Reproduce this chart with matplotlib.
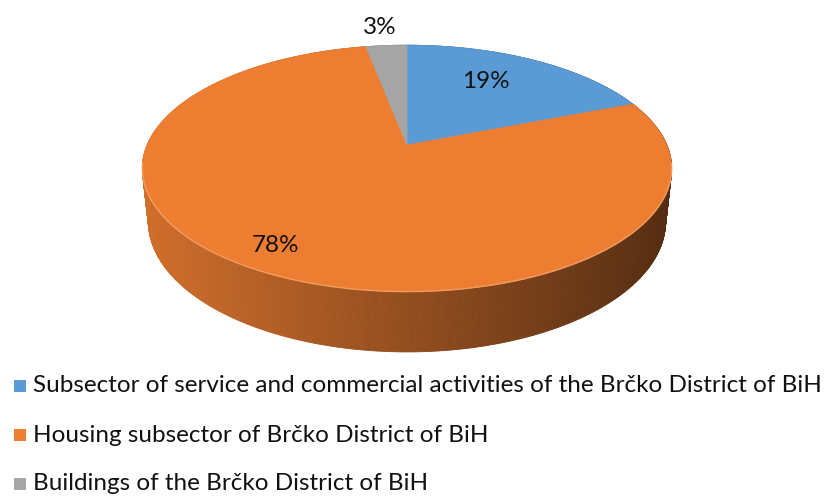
import numpy as np
import matplotlib
matplotlib.use("Agg")
import matplotlib.pyplot as plt
from matplotlib.patches import Polygon, Rectangle

# Shares of final energy consumption by subsector
categories = [
    "Subsector of service and commercial activities of the Brčko District of BiH",
    "Housing subsector of Brčko District of BiH",
    "Buildings of the Brčko District of BiH",
]
values = [19, 78, 3]
labels = ["19%", "78%", "3%"]
colors = ["#5B9BD5", "#ED7D31", "#A5A5A5"]

W, H = 828, 496
fig = plt.figure(figsize=(W / 100, H / 100), dpi=100)
ax = fig.add_axes([0, 0, 1, 1])
ax.set_xlim(0, W)
ax.set_ylim(H, 0)
ax.axis("off")

# Perspective camera for the 3D pie (unit disk, thickness h)
elev = np.deg2rad(27.2)
cs, sn = np.cos(elev), np.sin(elev)
D, f, h = 4.68, 1216.0, 0.2315
cx, cy = 407.0, 145.0


def project(X, Y, Z):
    yc = Z * cs + Y * sn
    zc = D + Y * cs - Z * sn
    return cx + f * X / zc, cy - f * yc / zc, zc


# Slice angles, clockwise from 12 o'clock
fr = np.array(values, dtype=float) / sum(values)
edges = np.concatenate([[0], np.cumsum(fr)]) * 2 * np.pi


def slice_index(theta):
    return min(np.searchsorted(edges, theta % (2 * np.pi), side="right") - 1, len(values) - 1)


# Side wall, drawn back to front with horizontal shading
n = 720
th = np.linspace(0, 2 * np.pi, n + 1)
quads = []
for i in range(n):
    t0, t1 = th[i], th[i + 1]
    x0, y0 = np.sin(t0), np.cos(t0)
    x1, y1 = np.sin(t1), np.cos(t1)
    a = project(x0, y0, 0)
    b = project(x1, y1, 0)
    c2 = project(x1, y1, -h)
    d = project(x0, y0, -h)
    depth = (a[2] + b[2]) / 2
    umid = (a[0] + b[0]) / 2 - cx
    k = slice_index((t0 + t1) / 2)
    base = np.array(matplotlib.colors.to_rgb(colors[k]))
    fac = np.clip(0.62 - 0.26 * umid / 265.0, 0.3, 0.95)
    col = base * fac
    quads.append((depth, [(a[0], a[1]), (b[0], b[1]), (c2[0], c2[1]), (d[0], d[1])], col))

quads.sort(key=lambda q: -q[0])
for _, pts, col in quads:
    ax.add_patch(Polygon(pts, closed=True, facecolor=col, edgecolor=col, lw=0.6))

# Top faces of the slices
for k in range(len(values)):
    t = np.linspace(edges[k], edges[k + 1], 200)
    px, py, _ = project(np.sin(t), np.cos(t), 0 * t)
    ax0, ay0, _ = project(0.0, 0.0, 0.0)
    pts = [(ax0, ay0)] + list(zip(px, py))
    ax.add_patch(Polygon(pts, closed=True, facecolor=colors[k], edgecolor=colors[k], lw=0.6))

# Light rim along the front edge of the top face
t = np.linspace(np.pi / 2 + 0.15, 3 * np.pi / 2 - 0.15, 300)
px, py, _ = project(np.sin(t), np.cos(t), 0 * t)
ax.plot(px, py, color="#F3A56E", lw=1.0, alpha=0.8)

# Percentage labels
label_pos = [(486, 82), (276, 245), (380, 27)]
for (lx, ly), txt in zip(label_pos, labels):
    ax.text(lx, ly, txt, fontsize=17.5, family="Lato", ha="center", va="center", color="#111111")

# Legend
rows_y = [386, 435, 484]
for yy, cat, col in zip(rows_y, categories, colors):
    ax.add_patch(Rectangle((14, yy - 6), 12, 12, facecolor=col, edgecolor="none"))
    ax.text(33, yy, cat, fontsize=17.5, family="Lato", ha="left", va="center", color="#111111")

fig.savefig("out.png", dpi=100)
